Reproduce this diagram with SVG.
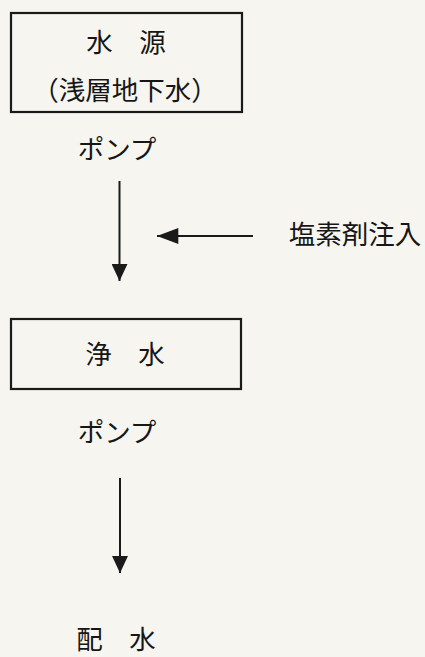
<svg xmlns="http://www.w3.org/2000/svg" width="425" height="657" viewBox="0 0 425 657">
<style>
.t{font-family:"Noto Sans CJK JP","Noto Sans CJK SC",sans-serif;fill:#161616;font-size:26.5px;text-anchor:middle}
.b{fill:none;stroke:#1a1a1a;stroke-width:2.2}
.c{stroke:#1a1a1a;stroke-width:2;fill:none}
</style>
<defs>
<marker id="ah" markerUnits="userSpaceOnUse" markerWidth="20" markerHeight="16" refX="16" refY="7.5" orient="auto" viewBox="0 0 16 15">
<path d="M0,0 L16,7.5 L0,15 Z" fill="#1a1a1a"/>
</marker>
<marker id="ah2" markerUnits="userSpaceOnUse" markerWidth="22" markerHeight="16" refX="20" refY="7.5" orient="auto" viewBox="0 0 20 15">
<path d="M0,0 L20,7.5 L0,15 Z" fill="#1a1a1a"/>
</marker>
</defs>
<rect width="425" height="657" fill="#f6f5ef"/>
<g id="source">
<rect class="b" x="11" y="13" width="231" height="99"/>
<text class="t" x="126" y="52">水　源</text>
<text class="t" x="125" y="100">（浅層地下水）</text>
</g>
<g id="pump1"><text class="t" x="117" y="159">ポンプ</text></g>
<g id="chlorine"><text class="t" x="355" y="244">塩素剤注入</text></g>
<g id="purified">
<rect class="b" x="11" y="319" width="230" height="70"/>
<text class="t" x="125" y="364">浄　水</text>
</g>
<g id="pump2"><text class="t" x="117" y="442">ポンプ</text></g>
<g id="distribution"><text class="t" x="116" y="649">配　水</text></g>
<g id="connectors">
<line class="c" x1="119.5" y1="181" x2="119.5" y2="281" marker-end="url(#ah)"/>
<line class="c" x1="253" y1="236" x2="157" y2="236" marker-end="url(#ah2)"/>
<line class="c" x1="120" y1="478" x2="120" y2="573" marker-end="url(#ah)"/>
</g>
</svg>
